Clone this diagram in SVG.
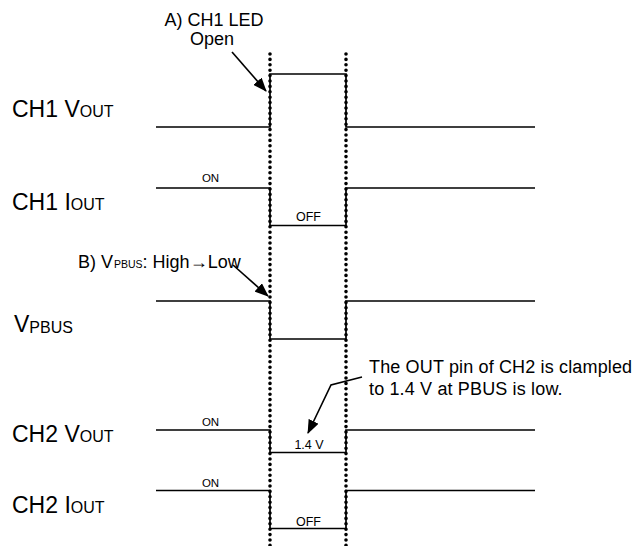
<svg xmlns="http://www.w3.org/2000/svg" width="643" height="546" viewBox="0 0 643 546">
<style>
.bg{fill:#ffffff}
.wave{fill:none;stroke:#000;stroke-width:1.7;stroke-linejoin:miter}
.dot{fill:none;stroke:#000;stroke-width:3.6;stroke-linecap:round;stroke-dasharray:0 5.4}
.lbl{font-family:"Liberation Sans",Arial,sans-serif;font-size:23px;fill:#000}
.sub{font-size:16px}
.ann{font-family:"Liberation Sans",Arial,sans-serif;font-size:18px;fill:#000}
.sm{font-family:"Liberation Sans",Arial,sans-serif;font-size:11.5px;fill:#000;text-anchor:middle}
.sm2{font-family:"Liberation Sans",Arial,sans-serif;font-size:12.5px;fill:#000;text-anchor:middle}
.arr{fill:none;stroke:#000;stroke-width:1.6;marker-end:url(#ah)}
</style>
<defs>
<marker id="ah" viewBox="0 0 14 11" refX="13" refY="5.5" markerWidth="14" markerHeight="11" markerUnits="userSpaceOnUse" orient="auto">
<path d="M0,0 L14,5.5 L0,11 z" fill="#000"/>
</marker>
</defs>
<rect class="bg" x="0" y="0" width="643" height="546"/>
<g id="markers">
<line class="dot" x1="270" y1="54" x2="270" y2="546"/>
<line class="dot" x1="346" y1="54" x2="346" y2="546"/>
</g>
<g id="ch1-vout">
<text class="lbl" x="12" y="117">CH1 V<tspan class="sub">OUT</tspan></text>
<polyline class="wave" points="156,127 270,127 270,74 346,74 346,127 535,127"/>
</g>
<g id="ch1-iout">
<text class="lbl" x="12" y="210">CH1 I<tspan class="sub">OUT</tspan></text>
<polyline class="wave" points="156,188 270,188 270,225.5 346,225.5 346,188 535,188"/>
<text class="sm" x="210.5" y="182">ON</text>
<text class="sm2" x="308.5" y="221">OFF</text>
</g>
<g id="vpbus">
<text class="lbl" x="14" y="331.5">V<tspan class="sub" dy="1.5">PBUS</tspan></text>
<polyline class="wave" points="156,301 270,301 270,339 346,339 346,301 535,301"/>
</g>
<g id="ch2-vout">
<text class="lbl" x="12" y="442">CH2 V<tspan class="sub">OUT</tspan></text>
<polyline class="wave" points="156,430 270,430 270,452.5 346,452.5 346,430 535,430"/>
<text class="sm" x="210.5" y="426">ON</text>
<text class="sm2" x="309" y="449">1.4 V</text>
</g>
<g id="ch2-iout">
<text class="lbl" x="12" y="513">CH2 I<tspan class="sub">OUT</tspan></text>
<polyline class="wave" points="156,490.5 270,490.5 270,528.5 346,528.5 346,490.5 535,490.5"/>
<text class="sm" x="210.5" y="487">ON</text>
<text class="sm2" x="308.5" y="525.5">OFF</text>
</g>
<g id="note-a">
<text class="ann" x="214" y="25.5" text-anchor="middle">A) CH1 LED</text>
<text class="ann" x="212" y="45" text-anchor="middle">Open</text>
</g>
<g id="note-b">
<text class="ann" x="78" y="268">B) V<tspan font-size="10.5px" dx="1">PBUS</tspan>: High→Low</text>
</g>
<g id="note-c">
<text class="ann" x="369" y="372.5" letter-spacing="0.15">The OUT pin of CH2 is clampled</text>
<text class="ann" x="369" y="395" letter-spacing="0.15">to 1.4 V at PBUS is low.</text>
</g>
<g id="connectors">
<line class="arr" x1="232" y1="52" x2="266" y2="91"/>
<line class="arr" x1="233" y1="265" x2="268" y2="296"/>
<polyline class="arr" points="362,377 331,385 308,433"/>
</g>
</svg>
